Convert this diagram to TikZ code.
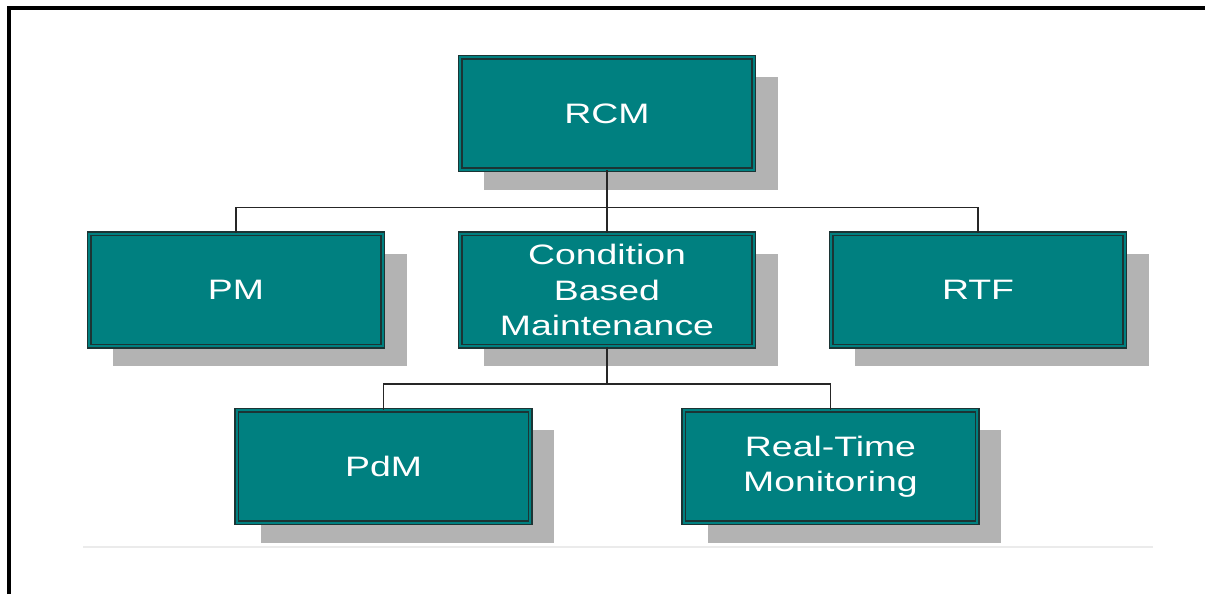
\documentclass[tikz,border=0pt]{standalone}
\usepackage{fontspec}
\setmainfont{Liberation Sans}[FakeStretch=1.33]
\usetikzlibrary{trees,shadows}
\definecolor{rcmteal}{RGB}{0,128,128}
\definecolor{rcmedge}{RGB}{28,52,52}
\definecolor{rcmshadow}{RGB}{179,179,179}
\definecolor{rcmrule}{RGB}{235,235,235}
\begin{document}
\begin{tikzpicture}[every node/.style={rectangle,draw=rcmedge,line width=0.75pt,
				double=rcmteal,double distance=1.1pt,fill=rcmteal,text=white,
				font=\fontsize{16}{20}\selectfont,align=center,
				minimum width=5.87cm,minimum height=2.25cm,
				drop shadow={shadow xshift=0.48cm,shadow yshift=-0.4cm,fill=rcmshadow,opacity=1}},
				level distance=3.53cm,
				level 1/.style={sibling distance=74.2mm},
				level 2/.style={sibling distance=89.4mm},
				edge from parent/.style={draw=black!85,line width=0.8pt},
				edge from parent path={(\tikzparentnode.south) -- +(0,-0.74) -| (\tikzchildnode.north)}]
\useasboundingbox (0,0) rectangle (24.1,-11.88);
% frame
\draw[line width=2.1pt] (0.184,-11.88) |- (24.1,-0.154);
\draw[rcmrule,line width=1.2pt] (1.66,-10.94) -- (23.06,-10.94);
\node (rcm) at (12.14,-2.27) {RCM}
child { node (pm) {PM} }
child { node (cbm) {Condition\\Based\\Maintenance}
	child { node (pdm) {PdM} }
	child { node (rtm) {Real-Time\\Monitoring} }
	}
child { node (rtf) {RTF} };
\end{tikzpicture}
\end{document}
